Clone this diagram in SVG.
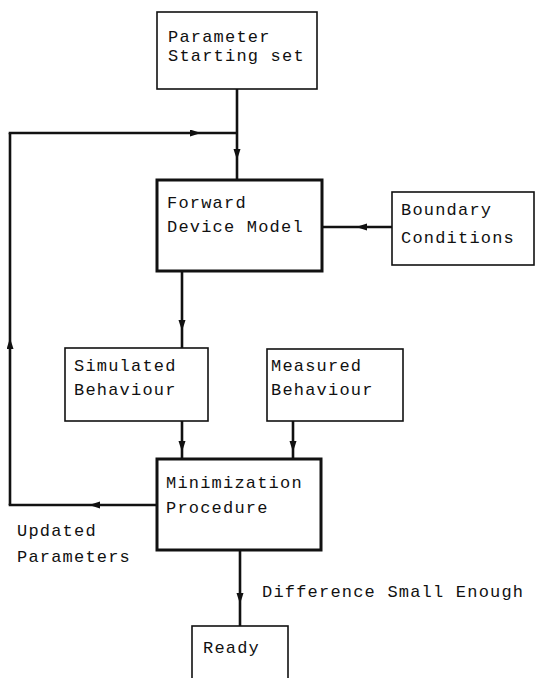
<svg xmlns="http://www.w3.org/2000/svg" width="536" height="678" viewBox="0 0 536 678">
<style>
  .box { fill: #fff; stroke: #111; stroke-width: 1.6; }
  .thick { fill: #fff; stroke: #111; stroke-width: 3; }
  .conn { fill: none; stroke: #111; stroke-width: 2.6; marker-mid: url(#ah); }
  .line { fill: none; stroke: #111; stroke-width: 2.6; }
  text { font-family: "Liberation Mono", "Courier New", monospace; font-size: 17px; letter-spacing: 1.2px; fill: #111; }
</style>
<defs>
  <marker id="ah" markerUnits="userSpaceOnUse" markerWidth="12" markerHeight="8" refX="11" refY="3.5" orient="auto">
    <path d="M0,0 L11,3.5 L0,7 z" fill="#111"/>
  </marker>
</defs>
<rect x="0" y="0" width="536" height="678" fill="#fff"/>
<g id="connectors">
  <path class="conn" d="M237,89 L237,160 L237,180"/>
  <path class="conn" d="M10,505 L10,338 L10,133"/>
  <path class="conn" d="M8.7,133 L201,133 L237,133"/>
  <path class="conn" d="M392,227 L356,227 L322,227"/>
  <path class="conn" d="M182,271 L182,331 L182,348"/>
  <path class="conn" d="M182,421 L182,452 L182,459"/>
  <path class="conn" d="M293,421 L293,452 L293,459"/>
  <path class="conn" d="M157,505 L89,505 L8.7,505"/>
  <path class="conn" d="M240,550 L240,604 L240,626"/>
</g>
<g id="n-start">
  <rect class="box" x="157" y="12" width="160" height="77"/>
  <text x="168" y="42">Parameter</text>
  <text x="168" y="61">Starting set</text>
</g>
<g id="n-forward">
  <rect class="thick" x="157" y="180" width="165" height="91"/>
  <text x="167" y="208">Forward</text>
  <text x="167" y="232">Device Model</text>
</g>
<g id="n-boundary">
  <rect class="box" x="392" y="192" width="142" height="73"/>
  <text x="401" y="215">Boundary</text>
  <text x="401" y="243">Conditions</text>
</g>
<g id="n-simulated">
  <rect class="box" x="65" y="348" width="143" height="73"/>
  <text x="74" y="371">Simulated</text>
  <text x="74" y="395">Behaviour</text>
</g>
<g id="n-measured">
  <rect class="box" x="267" y="349" width="136" height="72"/>
  <text x="271" y="371">Measured</text>
  <text x="271" y="395">Behaviour</text>
</g>
<g id="n-minimization">
  <rect class="thick" x="157" y="459" width="164" height="91"/>
  <text x="166" y="488">Minimization</text>
  <text x="166" y="513">Procedure</text>
</g>
<g id="n-ready">
  <rect class="box" x="192" y="626" width="96" height="70"/>
  <text x="203" y="653">Ready</text>
</g>
<g id="labels">
  <text x="17" y="536">Updated</text>
  <text x="17" y="562">Parameters</text>
  <text x="262" y="597">Difference Small Enough</text>
</g>
</svg>
